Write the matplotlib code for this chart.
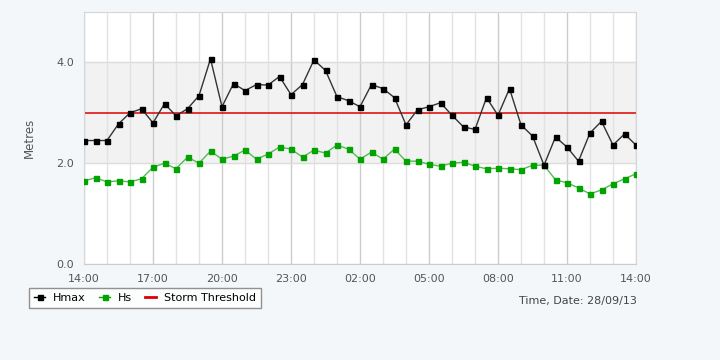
import matplotlib.pyplot as plt
import numpy as np

# half-hourly readings, 14:00 -> 14:00 next day
hmax = [2.45, 2.45, 2.45, 2.78, 3.00, 3.08, 2.80, 3.18, 2.94, 3.08,
        3.34, 4.07, 3.12, 3.58, 3.44, 3.56, 3.55, 3.72, 3.36, 3.56,
        4.05, 3.84, 3.32, 3.24, 3.12, 3.56, 3.48, 3.30, 2.76, 3.06,
        3.12, 3.20, 2.95, 2.72, 2.67, 3.30, 2.95, 3.48, 2.76, 2.54,
        1.96, 2.52, 2.32, 2.04, 2.60, 2.83, 2.36, 2.58, 2.36]
hs = [1.65, 1.71, 1.63, 1.65, 1.63, 1.69, 1.92, 2.00, 1.89, 2.12,
      2.00, 2.24, 2.08, 2.14, 2.26, 2.08, 2.18, 2.32, 2.28, 2.12,
      2.26, 2.20, 2.36, 2.28, 2.08, 2.22, 2.08, 2.28, 2.04, 2.04,
      1.98, 1.94, 2.00, 2.02, 1.94, 1.89, 1.90, 1.89, 1.87, 1.96,
      1.96, 1.67, 1.61, 1.51, 1.39, 1.47, 1.59, 1.69, 1.79]
storm_threshold = 3.0
hours = np.arange(len(hmax)) * 0.5
tick_labels = ['14:00', '17:00', '20:00', '23:00', '02:00', '05:00', '08:00', '11:00', '14:00']

bg = '#f4f7fa'
fig = plt.figure(figsize=(7.2, 3.6), dpi=100, facecolor=bg)
ax = fig.add_axes([84 / 720, 96 / 360, 552 / 720, 252 / 360])
ax.set_facecolor('white')

ax.axhspan(2.0, 4.0, color='#f2f2f2', zorder=0)
for h in range(25):
    c = '#cccccc' if h % 3 == 0 else '#e2e2e2'
    ax.axvline(h, color=c, lw=1, zorder=1)
for y in [0, 2, 4]:
    ax.axhline(y, color='#dddddd', lw=1, zorder=1)

ax.axhline(storm_threshold, color='#dd0000', lw=1.1, zorder=2)
ax.plot(hours, hs, color='#55bb55', lw=1, marker='s', ms=3.6,
        mfc='#00a300', mec='#00a300', zorder=3)
ax.plot(hours, hmax, color='#333333', lw=1, marker='s', ms=3.6,
        mfc='black', mec='black', zorder=4)

ax.set_xlim(0, 24)
ax.set_ylim(0, 5)
ax.set_xticks(np.arange(0, 25, 3))
ax.set_xticklabels(tick_labels)
ax.set_yticks([0, 2, 4])
ax.set_yticklabels(['0.0', '2.0', '4.0'])
ax.tick_params(length=0, labelsize=8, colors='#555555', pad=7)
ax.set_ylabel('Metres', fontsize=8.5, color='#555555', labelpad=15)
for s in ax.spines.values():
    s.set_color('#d6d6d6')
ax.spines['bottom'].set_color('#cccccc')

handles = [
    plt.Line2D([], [], color='black', lw=1, marker='s', ms=3.6),
    plt.Line2D([], [], color='#00a300', lw=1, marker='s', ms=3.6),
    plt.Line2D([], [], color='#dd0000', lw=2),
]
leg = fig.legend(handles, ['Hmax', 'Hs', 'Storm Threshold'], ncol=3,
                 loc='lower left', bbox_to_anchor=(29 / 720, 52 / 360),
                 borderaxespad=0, fontsize=8, frameon=True, fancybox=False,
                 handlelength=1.0, handletextpad=0.7, columnspacing=1.2,
                 borderpad=0.45)
leg.get_frame().set_edgecolor('#777777')
leg.get_frame().set_facecolor('white')
leg.get_frame().set_linewidth(1)

fig.text(637 / 720, 59 / 360, 'Time, Date: 28/09/13', ha='right', va='center',
         fontsize=8, color='#444444')

fig.savefig('out.png', dpi=100, facecolor=bg)
